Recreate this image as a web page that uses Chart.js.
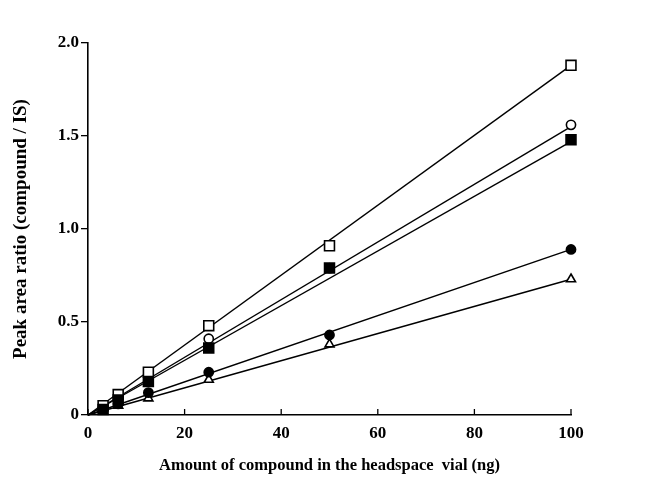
<!DOCTYPE html>
<html>
<head>
<meta charset="utf-8">
<script src="https://cdn.jsdelivr.net/npm/chart.js@4.4.1/dist/chart.umd.min.js"></script>
<style>
  html, body { margin: 0; padding: 0; background: #fff; }
</style>
</head>
<body>
<canvas id="calChart" width="660" height="495"></canvas>
<script>
// Amount of compound in vial (ng)
const amounts = [3.125, 6.25, 12.5, 25, 50, 100];

// Peak area ratios, one array per marker
const openSquare   = [0.05, 0.11, 0.23, 0.48, 0.91, 1.88];
const openCircle   = [0.04, 0.11, 0.20, 0.41, 0.79, 1.56];
const filledSquare = [0.03, 0.08, 0.18, 0.36, 0.79, 1.48];
const filledCircle = [0.03, 0.06, 0.12, 0.23, 0.43, 0.89];
const openTriangle = [0.02, 0.05, 0.09, 0.19, 0.38, 0.73];

// Regression lines, start and end
const fitX            = [0, 100];
const fitOpenSquare   = [0, 1.88];
const fitOpenCircle   = [0, 1.55];
const fitFilledSquare = [0, 1.47];
const fitFilledCircle = [0, 0.89];
const fitOpenTriangle = [0, 0.73];

const xTicks = [0, 20, 40, 60, 80, 100];
const yTicks = [0, 0.5, 1.0, 1.5, 2.0];

const toPoints = (xs, ys) => xs.map((x, i) => ({ x: x, y: ys[i] }));

function fitLine(ys) {
    return {
        data: toPoints(fitX, ys),
        showLine: true,
        borderColor: '#000',
        borderWidth: 1.4,
        pointRadius: 0,
        order: 2
    };
}

function markers(ys, style, filled) {
    let r = 4.6;
    if (style === 'rect') r = 7;
    if (style === 'triangle') r = 5.2;
    return {
        data: toPoints(amounts, ys),
        showLine: false,
        pointStyle: style,
        pointRadius: r,
        pointBackgroundColor: filled ? '#000' : '#fff',
        pointBorderColor: '#000',
        pointBorderWidth: 1.6,
        order: 1
    };
}

// x axis ticks point up into the plot, as in the original
const innerTicks = {
    id: 'innerTicks',
    afterDraw(chart) {
        const ctx = chart.ctx;
        const xs = chart.scales.x;
        const y0 = chart.scales.y.getPixelForValue(0);
        ctx.save();
        ctx.strokeStyle = '#000';
        ctx.lineWidth = 1.3;
        xTicks.forEach(function (v) {
            const px = xs.getPixelForValue(v);
            ctx.beginPath();
            ctx.moveTo(px, y0);
            ctx.lineTo(px, y0 - 6);
            ctx.stroke();
        });
        ctx.restore();
    }
};

const serif = "'Liberation Serif', 'Times New Roman', serif";

new Chart(document.getElementById('calChart').getContext('2d'), {
    type: 'scatter',
    data: {
        datasets: [
            fitLine(fitOpenSquare),
            fitLine(fitOpenCircle),
            fitLine(fitFilledSquare),
            fitLine(fitFilledCircle),
            fitLine(fitOpenTriangle),
            // filled square listed first so it sits on top of the open circle at 50 ng
            markers(filledSquare, 'rect', true),
            markers(openSquare, 'rect', false),
            markers(openCircle, 'circle', false),
            markers(filledCircle, 'circle', true),
            markers(openTriangle, 'triangle', false)
        ]
    },
    options: {
        responsive: false,
        animation: false,
        clip: false,
        layout: { padding: { left: 0, top: 43, right: 89, bottom: 0 } },
        plugins: {
            legend: { display: false },
            tooltip: { enabled: false }
        },
        scales: {
            x: {
                type: 'linear',
                min: 0,
                max: 100,
                afterFit: function (scale) { scale.height = 80; },
                afterBuildTicks: function (scale) {
                    scale.ticks = xTicks.map(v => ({ value: v }));
                },
                grid: { display: false, drawTicks: false },
                border: { display: true, color: '#000', width: 1.6 },
                ticks: {
                    color: '#000',
                    padding: 8,
                    font: { family: serif, size: 17, weight: 'bold' }
                },
                title: {
                    display: true,
                    text: 'Amount of compound in the headspace  vial (ng)',
                    color: '#000',
                    padding: { top: 0, bottom: 19 },
                    font: { family: serif, size: 16.5, weight: 'bold' }
                }
            },
            y: {
                type: 'linear',
                min: 0,
                max: 2.0,
                afterFit: function (scale) { scale.width = 88; },
                afterBuildTicks: function (scale) {
                    scale.ticks = yTicks.map(v => ({ value: v }));
                },
                grid: {
                    display: true,
                    drawOnChartArea: false,
                    drawTicks: true,
                    tickLength: 7,
                    color: '#000',
                    lineWidth: 1.3
                },
                border: { display: true, color: '#000', width: 1.6 },
                ticks: {
                    color: '#000',
                    padding: 2,
                    font: { family: serif, size: 17, weight: 'bold' },
                    callback: function (value) {
                        return value === 0 ? '0' : value.toFixed(1);
                    }
                },
                title: {
                    display: true,
                    text: 'Peak area ratio (compound / IS)',
                    color: '#000',
                    padding: { top: 10, bottom: 0 },
                    font: { family: serif, size: 19, weight: 'bold' }
                }
            }
        }
    },
    plugins: [innerTicks]
});
</script>
</body>
</html>
